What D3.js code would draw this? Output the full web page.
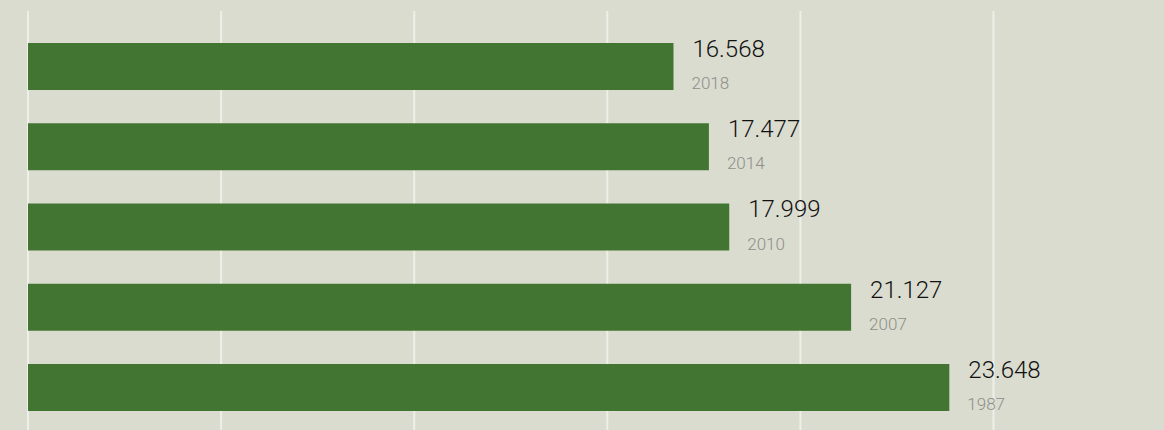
<!DOCTYPE html>
<html>
<head>
<meta charset="utf-8">
<script src="https://cdn.jsdelivr.net/npm/d3@7"></script>
<style>
  body { margin: 0; background: #dadccf; }
  svg { display: block; }
</style>
</head>
<body>
<script>
var years = ["2018", "2014", "2010", "2007", "1987"];
var values = [16.568, 17.477, 17.999, 21.127, 23.648];
var gridTicks = [0, 1, 2, 3, 4, 5];

var width = 1164,
	height = 430,
	left = 28;

var svg = d3.select("body").append("svg")
		.attr("width", width)
		.attr("height", height);

var x = d3.scaleLinear()
		.domain([0, 30])
		.range([left, left + 30 * 38.96]);

// grid is evenly spaced, not tied to the value axis
var gx = d3.scaleLinear()
		.domain([0, 5])
		.range([left, left + 5 * 193.1]);

var y = d3.scaleBand()
		.domain(years)
		.range([43, 411])
		.paddingInner(0.4143)
		.paddingOuter(0);

svg.append("g")
	.selectAll("line")
	.data(gridTicks)
	.enter().append("line")
		.attr("x1", function(d){ return gx(d); })
		.attr("x2", function(d){ return gx(d); })
		.attr("y1", 11)
		.attr("y2", height)
		.style("stroke", "#eeefe8")
		.style("stroke-width", 2);

var data = years.map(function(d, i){ return {year: d, value: values[i]}; });

var g = svg.selectAll(".bar")
		.data(data)
		.enter().append("g")
		.attr("class", "bar");

g.append("rect")
	.attr("x", x(0))
	.attr("y", function(d){ return y(d.year); })
	.attr("width", function(d){ return x(d.value) - x(0); })
	.attr("height", y.bandwidth())
	.style("fill", "#437532");

g.append("text")
	.attr("x", function(d){ return x(d.value) + 19; })
	.attr("y", function(d){ return y(d.year) + 14; })
	.style("font-family", "Roboto")
	.style("font-weight", 300)
	.style("font-size", "24px")
	.style("fill", "#111")
	.text(function(d){ return d3.format(".3f")(d.value); });

g.append("text")
	.attr("x", function(d){ return x(d.value) + 18; })
	.attr("y", function(d){ return y(d.year) + y.bandwidth() - 1; })
	.style("font-family", "Roboto")
	.style("font-weight", 300)
	.style("font-size", "17px")
	.style("fill", "#8e8e8a")
	.text(function(d){ return d.year; });
</script>
</body>
</html>
